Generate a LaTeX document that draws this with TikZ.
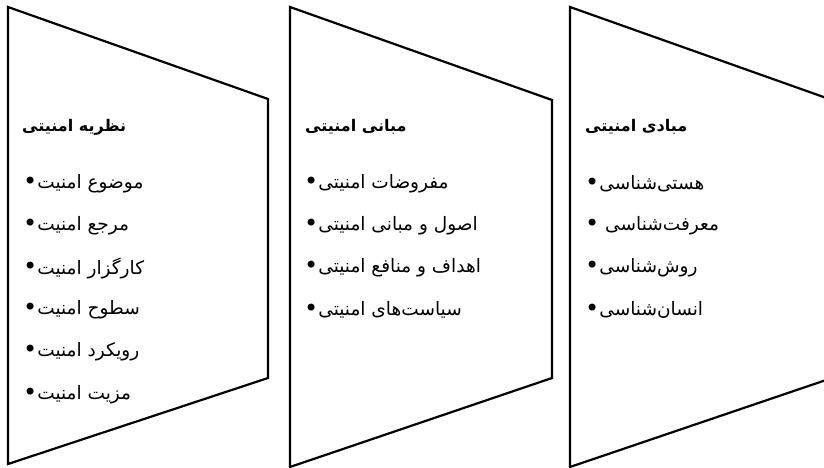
\documentclass[tikz,border=0pt]{standalone}
\usepackage{fontspec}
\TeXXeTstate=1
\newfontfamily\fa[Script=Arabic]{DejaVu Sans}
\newcommand{\blt}{\raisebox{-0.6pt}{\fontsize{24}{20}\selectfont •}}
\begin{document}
\begin{tikzpicture}[x=1pt,y=-1pt,
  panel/.style={draw=black,line width=2.2pt,line join=miter},
  ttl/.style={anchor=west,inner sep=0pt,font=\fa\bfseries\fontsize{16}{18}\selectfont},
  itm/.style={anchor=west,inner sep=0pt,font=\fa\fontsize{18.5}{20}\selectfont}]
\useasboundingbox (0,0) rectangle (824,468);
\clip (0,0) rectangle (824,468);
% panels
\draw[panel] (8,7) -- (268,99) -- (268,378) -- (8,464) -- cycle;
\draw[panel] (290,7) -- (552,100) -- (552,378) -- (290,467) -- cycle;
\draw[panel] (570,7) -- (832,100) -- (832,378) -- (570,467) -- cycle;
% column 1
\node[ttl] (t1) at (22,127) {\beginR نظریه امنیتی\endR};
\node[itm] (a1) at (23,184) {\blt\beginR موضوع امنیت\endR};
\node[itm] (a2) at (23,226) {\blt\beginR مرجع امنیت\endR};
\node[itm] (a3) at (23,268) {\blt\beginR کارگزار امنیت\endR};
\node[itm] (a4) at (23,310) {\blt\beginR سطوح امنیت\endR};
\node[itm] (a5) at (23,352) {\blt\beginR رویکرد امنیت\endR};
\node[itm] (a6) at (23,395) {\blt\beginR مزیت امنیت\endR};
% column 2
\node[ttl] (t2) at (305,127) {\beginR مبانی امنیتی\endR};
\node[itm] (b1) at (304,184) {\blt\beginR مفروضات امنیتی\endR};
\node[itm] (b2) at (304,226) {\blt\beginR اصول و مبانی امنیتی\endR};
\node[itm] (b3) at (304,268) {\blt\beginR اهداف و منافع امنیتی\endR};
\node[itm] (b4) at (304,310) {\blt\beginR سیاست‌های امنیتی\endR};
% column 3
\node[ttl] (t3) at (585,127) {\beginR مبادی امنیتی\endR};
\node[itm] (c1) at (585,184) {\blt\beginR هستی‌شناسی\endR};
\node[itm] (c2) at (585,226) {\blt{} \beginR معرفت‌شناسی\endR};
\node[itm] (c3) at (585,268) {\blt\beginR روش‌شناسی\endR};
\node[itm] (c4) at (585,310) {\blt\beginR انسان‌شناسی\endR};
\end{tikzpicture}
\end{document}
